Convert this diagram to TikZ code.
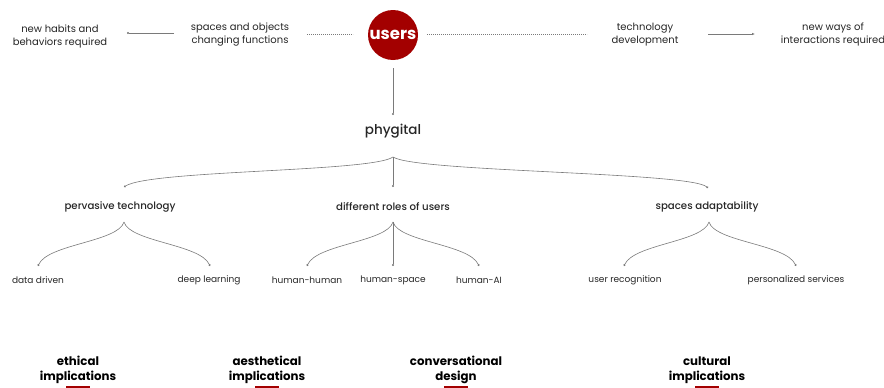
\documentclass[tikz,border=0pt]{standalone}
\usepackage{fontspec}
\setmainfont{Poppins}
\newfontfamily\popmed{Poppins Medium}
\usetikzlibrary{arrows.meta}
\definecolor{ured}{HTML}{A30000}
\definecolor{txt}{HTML}{262626}
\definecolor{ln}{HTML}{7A7A7A}
\begin{document}
\begin{tikzpicture}[x=1pt,y=-1pt,
  lbl/.style={text=txt,font=\fontsize{10}{12.8}\selectfont,align=center,inner sep=0pt},
  head/.style={text=txt,font=\popmed\fontsize{10.2}{13}\selectfont,inner sep=0pt},
  leaf/.style={text=txt,font=\fontsize{9}{10}\selectfont,inner sep=0pt},
  impl/.style={text=black,font=\bfseries\fontsize{11.8}{14.5}\selectfont,align=center,inner sep=0pt},
  conn/.style={draw=ln,line width=0.6pt},
  dotend/.style={conn,-{Circle[length=2pt]}},
  dots/.style={draw=ln,line width=0.8pt,dash pattern=on 0.6pt off 1.4pt},
  bar/.style={fill=ured,draw=none}]
\useasboundingbox (0,0) rectangle (884,388);
% top row
\node[lbl] (nh) at (60,36.5) {new habits and\\behaviors required};
\node[lbl] (so) at (240,34.5) {spaces and objects\\changing functions};
\node[circle,fill=ured,minimum size=50pt,inner sep=0pt,text=white,font=\bfseries\fontsize{16.5}{18}\selectfont] (us) at (393,35) {users};
\node[lbl] (td) at (645,34.5) {technology\\development};
\node[lbl] (nw) at (833,34.5) {new ways of\\interactions required};
\coordinate (a1s) at (174,33); \coordinate (a1e) at (127,33);
\coordinate (d1s) at (307,34); \coordinate (d1e) at (353,34);
\coordinate (d2s) at (427,34); \coordinate (d2e) at (587,34);
\coordinate (a2s) at (708,34); \coordinate (a2e) at (755,34);
\draw[dotend] (a1s) -- (a1e);
\draw[dots] (d1s) -- (d1e);
\draw[dots] (d2s) -- (d2e);
\draw[conn,-{Latex[length=3pt,width=2.5pt]}] (a2s) -- (a2e);
% phygital
\node[text=txt,font=\popmed\fontsize{13.5}{16}\selectfont,inner sep=0pt] (ph) at (393,131) {phygital};
\coordinate (ust) at (393,68); \coordinate (pht) at (393,115);
\draw[dotend] (ust) -- (pht);
\coordinate (phb) at (393,157);
% heads
\node[head] (pv) at (120,207) {pervasive technology};
\node[head] (dr) at (393,207) {different roles of users};
\node[head] (sa) at (707,207) {spaces adaptability};
\coordinate (pvt) at (124,187); \coordinate (drt) at (393,187); \coordinate (sat) at (708,188);
\draw[dotend] (phb) .. controls (372,172) and (150,170) .. (pvt);
\draw[dotend] (phb) -- (drt);
\draw[dotend] (phb) .. controls (416,172) and (690,172) .. (sat);
% leaves
\node[leaf] (l1) at (38,280) {data driven};
\node[leaf] (l2) at (209,280) {deep learning};
\node[leaf] (l3) at (307,280) {human-human};
\node[leaf] (l4) at (393,280) {human-space};
\node[leaf] (l5) at (479,280) {human-AI};
\node[leaf] (l6) at (625,280) {user recognition};
\node[leaf] (l7) at (796,280) {personalized services};
\coordinate (pvb) at (124,222); \coordinate (drb) at (393,222); \coordinate (sab) at (709,222);
\coordinate (l1t) at (38,266); \coordinate (l2t) at (210,266);
\coordinate (l3t) at (307,266); \coordinate (l4t) at (393,266); \coordinate (l5t) at (479,266);
\coordinate (l6t) at (624,266); \coordinate (l7t) at (796,266);
\draw[dotend] (pvb) .. controls (118,242) and (48,244) .. (l1t);
\draw[dotend] (pvb) .. controls (130,242) and (200,244) .. (l2t);
\draw[dotend] (drb) .. controls (387,242) and (317,244) .. (l3t);
\draw[dotend] (drb) -- (l4t);
\draw[dotend] (drb) .. controls (399,242) and (469,244) .. (l5t);
\draw[dotend] (sab) .. controls (703,242) and (634,244) .. (l6t);
\draw[dotend] (sab) .. controls (715,242) and (786,244) .. (l7t);
% bottom
\node[impl] (b1) at (78,370) {ethical\\implications};
\node[impl] (b2) at (267,370) {aesthetical\\implications};
\node[impl] (b3) at (456,370) {conversational\\design};
\node[impl] (b4) at (707,370) {cultural\\implications};
\fill[bar] (66,386) rectangle (90,392);
\fill[bar] (255,386) rectangle (279,392);
\fill[bar] (444,386) rectangle (468,392);
\fill[bar] (695,386) rectangle (719,392);
\end{tikzpicture}
\end{document}
